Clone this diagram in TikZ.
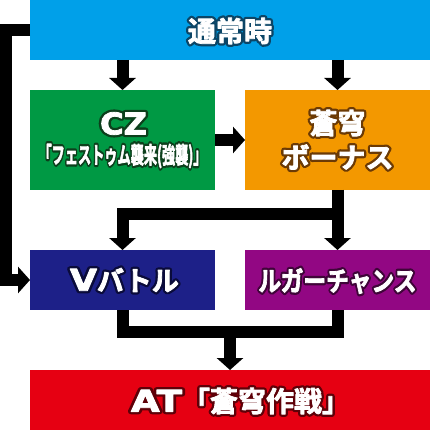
\documentclass[tikz,border=0pt]{standalone}
\usepackage{fontspec}
\usepackage{graphicx}
\newfontfamily\jp{Noto Sans CJK JP Bold}
\newfontfamily\lat{DejaVu Sans Bold}
\usetikzlibrary{arrows.meta}
\definecolor{cblue}{HTML}{00A0E9}
\definecolor{cbluedk}{HTML}{0B4566}
\definecolor{cgreen}{HTML}{009944}
\definecolor{cgreendk}{HTML}{0C3F1C}
\definecolor{corange}{HTML}{F39800}
\definecolor{corangedk}{HTML}{6B3A05}
\definecolor{cnavy}{HTML}{1D2088}
\definecolor{cnavydk}{HTML}{0A0B3A}
\definecolor{cpurple}{HTML}{920783}
\definecolor{cpurpledk}{HTML}{3F0538}
\definecolor{cred}{HTML}{E60012}
\definecolor{creddk}{HTML}{5E0008}
\tikzset{
  box/.style={inner sep=0pt, outer sep=0pt, draw=none},
  lbl/.style={inner sep=0pt, outer sep=0pt, text=white},
  conn/.style={line width=12pt, line join=miter, line cap=butt},
  arr/.style={conn, -{Triangle[width=26pt,length=12pt]}},
}
% outlined text: dark stroked copy underneath, white (slightly emboldened) copy on top
\newcommand\olt[2]{\leavevmode
  \rlap{\color{#1}\special{pdf:literal direct 1 j 5.4 w 2 Tr}#2\special{pdf:literal direct 0 Tr 0.4 w}}%
  {\color{white}\special{pdf:literal direct 1 j 0.8 w 2 Tr}#2\special{pdf:literal direct 0 Tr 0.4 w}}}
\newcommand\wide[2]{\resizebox{#1}{\height}{\lat\fontsize{30pt}{30pt}\selectfont #2}}
\begin{document}
\begin{tikzpicture}[x=1pt,y=-1pt]
\useasboundingbox[fill=white] (0,0) rectangle (430,430);
% boxes
\node[box,fill=cblue,minimum width=400pt,minimum height=60pt] (top) at (230,30) {};
\node[box,fill=cgreen,minimum width=185pt,minimum height=100pt] (cz) at (122.5,140) {};
\node[box,fill=corange,minimum width=185pt,minimum height=100pt] (bonus) at (337.5,140) {};
\node[box,fill=cnavy,minimum width=185pt,minimum height=60pt] (vb) at (122.5,280) {};
\node[box,fill=cpurple,minimum width=185pt,minimum height=60pt] (luger) at (337.5,280) {};
\node[box,fill=cred,minimum width=400pt,minimum height=60pt] (at) at (230,400) {};
% connectors
\draw[arr] (top.south -| cz.north) -- (cz.north);
\draw[arr] (top.south -| bonus.north) -- (bonus.north);
\draw[arr] (cz.east) -- (bonus.west);
\draw[arr] (bonus.south) -- (luger.north);
\coordinate (split) at (337.5,214);
\draw[arr] (bonus.south) -- (split) -| (vb.north);
\coordinate (lt) at (6,30);
\coordinate (lb) at (6,280);
\draw[arr] (top.west) -- (lt) -- (lb) -- (vb.west);
\coordinate (merge) at (230,332);
\draw[conn] (vb.south) |- (merge) -| (luger.south);
\draw[arr] (merge) -- (at.north);
% labels
\node[lbl,font=\jp\fontsize{28pt}{28pt}\selectfont] (l1) at (230,31) {\olt{cbluedk}{通常時}};
\node[lbl,font=\jp\fontsize{27pt}{27pt}\selectfont] (l2) at (123.5,123.5) {\olt{cgreendk}{\wide{47pt}{CZ}}};
\node[lbl,font=\jp\fontsize{23pt}{23pt}\selectfont] (l3) at (122.5,156) {\resizebox{168pt}{\height}{\olt{cgreendk}{「フェストゥム襲来(強襲)」}}};
\node[lbl,font=\jp\fontsize{28pt}{28pt}\selectfont] (l4) at (337.5,123) {\olt{corangedk}{蒼穹}};
\node[lbl,font=\jp\fontsize{28pt}{28pt}\selectfont] (l5) at (337.5,157) {\olt{corangedk}{ボーナス}};
\node[lbl,font=\jp\fontsize{27pt}{27pt}\selectfont,anchor=west] (l6) at (70,280) {\olt{cnavydk}{\wide{27pt}{V}バトル}};
\node[lbl,font=\jp\fontsize{27pt}{27pt}\selectfont] (l7) at (337.5,281) {\resizebox{158pt}{\height}{\olt{cpurpledk}{ルガーチャンス}}};
\node[lbl,font=\jp\fontsize{28pt}{28pt}\selectfont,anchor=west] (l8) at (131,401) {\olt{creddk}{\wide{51pt}{AT}「蒼穹作戦」}};
\end{tikzpicture}
\end{document}
